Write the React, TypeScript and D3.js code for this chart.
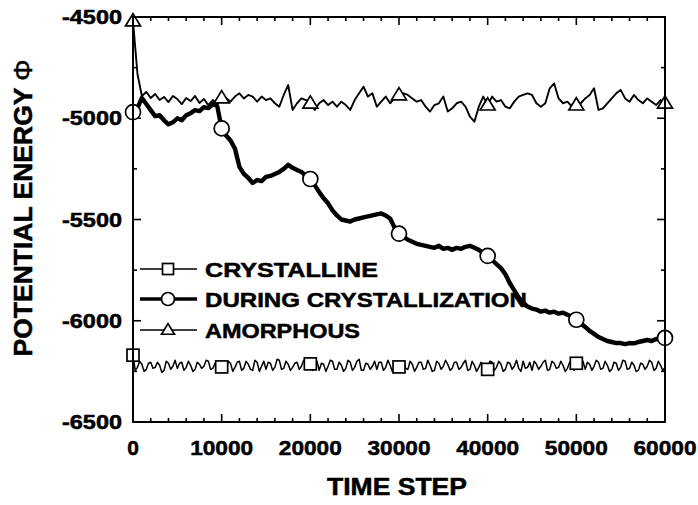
import React from "react";
import * as d3 from "d3";

// Sampling grids of time steps
const timeSteps: number[] = d3.range(0, 60001, 500);
const fineSteps: number[] = d3.range(0, 60001, 250);

const amorphous: number[] = [
  -4520, -4780, -4890, -4870, -4900, -4880, -4910, -4895, -4920, -4890,
  -4905, -4930, -4900, -4915, -4890, -4925, -4905, -4935, -4910, -4930,
  -4900, -4900, -4918, -4893, -4877, -4902, -4885, -4893, -4918, -4893,
  -4910, -4902, -4926, -4943, -4885, -4836, -4959, -4926, -4902, -4910,
  -4926, -4959, -4926, -4910, -4935, -4918, -4943, -4918, -4935, -4959,
  -4910, -4877, -4844, -4893, -4877, -4943, -4918, -4893, -4926, -4902,
  -4885, -4877, -4885, -4902, -4918, -4910, -4943, -4967, -4935, -4926,
  -4893, -4967, -4951, -4926, -4918, -4943, -4992, -5017, -4943, -4893,
  -4935, -4893, -4918, -4910, -4943, -4951, -4918, -4893, -4885, -4877,
  -4885, -4926, -4943, -4926, -4852, -4828, -4902, -4926, -4918, -4943,
  -4935, -4926, -4902, -4885, -4852, -4959, -4951, -4926, -4902, -4877,
  -4860, -4902, -4918, -4885, -4910, -4926, -4902, -4918, -4935, -4910,
  -4926,
];

const duringCrystallization: number[] = [
  -4970, -4950, -4900, -4930, -4960, -4990, -4985, -5010, -5030, -5020,
  -5000, -5010, -4985, -4975, -4960, -4965, -4945, -4950, -4930, -4940,
  -5050, -5085, -5110, -5150, -5240, -5275, -5295, -5320, -5305, -5310,
  -5290, -5285, -5275, -5265, -5250, -5230, -5245, -5255, -5265, -5285,
  -5300, -5330, -5365, -5395, -5420, -5455, -5480, -5500, -5505, -5510,
  -5500, -5495, -5490, -5485, -5480, -5475, -5470, -5480, -5495, -5540,
  -5570, -5585, -5600, -5610, -5620, -5625, -5630, -5635, -5640, -5630,
  -5645, -5640, -5650, -5640, -5645, -5635, -5630, -5640, -5650, -5665,
  -5680, -5700, -5720, -5740, -5770, -5815, -5850, -5885, -5910, -5930,
  -5940, -5945, -5955, -5950, -5960, -5955, -5965, -5960, -5970, -5980,
  -5995, -6015, -6030, -6050, -6065, -6080, -6090, -6100, -6105, -6110,
  -6110, -6115, -6110, -6112, -6105, -6100, -6095, -6100, -6090, -6095,
  -6085,
];

// Crystalline run, sampled every 250 steps
const crystalline: number[] = [
  -6170, -6245, -6230, -6200, -6215, -6250, -6240, -6210, -6205, -6235, -6230, -6205, -6220, -6255, -6245, -6200, -6210, -6240, -6225, -6195,
  -6235, -6210, -6205, -6245, -6230, -6200, -6220, -6250, -6240, -6205, -6215, -6235, -6225, -6195, -6200, -6240, -6235, -6210, -6220, -6245,
  -6228, -6210, -6240, -6200, -6210, -6250, -6230, -6205, -6200, -6245, -6235, -6200, -6215, -6240, -6245, -6195, -6205, -6250, -6225, -6200,
  -6240, -6205, -6210, -6245, -6230, -6190, -6195, -6240, -6235, -6200, -6215, -6245, -6230, -6210, -6205, -6240, -6225, -6195, -6215, -6235,
  -6213, -6245, -6230, -6200, -6245, -6210, -6215, -6250, -6225, -6195, -6200, -6240, -6240, -6205, -6220, -6250, -6235, -6195, -6205, -6245,
  -6230, -6200, -6190, -6245, -6245, -6210, -6215, -6240, -6225, -6200, -6240, -6205, -6205, -6245, -6230, -6195, -6220, -6250, -6235, -6205,
  -6228, -6245, -6200, -6235, -6240, -6200, -6215, -6250, -6230, -6205, -6205, -6240, -6235, -6195, -6220, -6250, -6245, -6200, -6210, -6240,
  -6225, -6195, -6215, -6245, -6235, -6205, -6205, -6240, -6230, -6210, -6195, -6245, -6240, -6200, -6220, -6250, -6230, -6205, -6245, -6215,
  -6240, -6200, -6205, -6245, -6230, -6200, -6215, -6250, -6240, -6205, -6210, -6240, -6225, -6195, -6235, -6250, -6200, -6235, -6230, -6205,
  -6245, -6200, -6215, -6240, -6225, -6205, -6195, -6245, -6240, -6200, -6210, -6235, -6230, -6200, -6220, -6250, -6235, -6205, -6215, -6245,
  -6210, -6240, -6230, -6200, -6240, -6205, -6215, -6245, -6225, -6195, -6205, -6240, -6235, -6200, -6220, -6250, -6240, -6205, -6210, -6245,
  -6230, -6195, -6200, -6240, -6235, -6205, -6220, -6250, -6245, -6210, -6215, -6240, -6225, -6195, -6205, -6245, -6235, -6200, -6220, -6245,
  -6230,
];

// Marker positions (time steps) for each series
const crystallineMarks: number[] = [0, 10000, 20000, 30000, 40000, 50000];
const duringMarks: number[] = [0, 10000, 20000, 30000, 40000, 50000, 60000];
const amorphousMarks: number[] = [0, 10000, 20000, 30000, 40000, 50000, 60000];

const xTicks: number[] = [0, 10000, 20000, 30000, 40000, 50000, 60000];
const yTicks: number[] = [-4500, -5000, -5500, -6000, -6500];

const legendLabels: string[] = ["CRYSTALLINE", "DURING CRYSTALLIZATION", "AMORPHOUS"];

const FONT = "'Liberation Sans', Arial, Helvetica, sans-serif";
const W = 698;
const H = 505;
const M = { left: 133, right: 665, top: 17, bottom: 422 };

type Shape = "square" | "circle" | "triangle";

function Marker({ x, y, shape, s }: { x: number; y: number; shape: Shape; s: number }) {
  const common = { fill: "#fff", stroke: "#000", strokeWidth: 1.7 };
  if (shape === "square") {
    return <rect x={x - s / 2} y={y - s / 2} width={s} height={s} {...common} />;
  }
  if (shape === "circle") {
    return <circle cx={x} cy={y} r={s / 2} {...common} />;
  }
  const h = s * 0.82;
  return (
    <path
      d={`M${x},${y - h * 0.6}L${x + s / 2},${y + h * 0.4}L${x - s / 2},${y + h * 0.4}Z`}
      {...common}
    />
  );
}

export default function App() {
  const x = d3.scaleLinear().domain([0, 60000]).range([M.left, M.right]);
  const y = d3.scaleLinear().domain([-6500, -4500]).range([M.bottom, M.top]);

  const lineFor = (steps: number[]) =>
    d3
      .line<number>()
      .x((_, i) => x(steps[i]))
      .y((d) => y(d));

  const xMinor = d3.range(0, 60001, 2000);
  const yMinor = d3.range(-6500, -4499, 250);

  const series = [
    { data: crystalline, steps: fineSteps, marks: crystallineMarks, shape: "square" as Shape, width: 1.5, size: 12 },
    { data: amorphous, steps: timeSteps, marks: amorphousMarks, shape: "triangle" as Shape, width: 1.9, size: 15 },
    { data: duringCrystallization, steps: timeSteps, marks: duringMarks, shape: "circle" as Shape, width: 4.4, size: 15 },
  ];

  const legendRows = [
    { label: legendLabels[0], shape: "square" as Shape, width: 1.5, size: 11, len: 173 },
    { label: legendLabels[1], shape: "circle" as Shape, width: 3.4, size: 13, len: 322 },
    { label: legendLabels[2], shape: "triangle" as Shape, width: 1.5, size: 13, len: 155 },
  ];
  const legendY = [269, 299, 330];

  const ink = { stroke: "#000", strokeWidth: 0.5 };

  return (
    <div style={{ position: "absolute", left: 0, top: 0 }}>
      <svg width={W} height={H} style={{ display: "block", background: "#fff" }}>
        <defs>
          <clipPath id="plot-area">
            <rect x={M.left} y={M.top} width={M.right - M.left} height={M.bottom - M.top} />
          </clipPath>
        </defs>

        {/* minor / major ticks on all four sides, pointing inward */}
        <g stroke="#000" strokeWidth={1.6}>
          {xMinor.map((t) => {
            const len = t % 10000 === 0 ? 8 : 4;
            return (
              <g key={`xt${t}`}>
                <line x1={x(t)} x2={x(t)} y1={M.bottom} y2={M.bottom - len} />
                <line x1={x(t)} x2={x(t)} y1={M.top} y2={M.top + len} />
              </g>
            );
          })}
          {yMinor.map((t) => {
            const len = t % 500 === 0 ? 8 : 4;
            return (
              <g key={`yt${t}`}>
                <line x1={M.left} x2={M.left + len} y1={y(t)} y2={y(t)} />
                <line x1={M.right} x2={M.right - len} y1={y(t)} y2={y(t)} />
              </g>
            );
          })}
        </g>

        {/* legend */}
        <g fontFamily={FONT} fontWeight="bold" fontSize={21}>
          {legendRows.map((r, i) => (
            <g key={r.label}>
              <line x1={140} x2={197} y1={legendY[i]} y2={legendY[i]} stroke="#000" strokeWidth={r.width} />
              <Marker x={168} y={legendY[i]} shape={r.shape} s={r.size} />
              <text x={205} y={legendY[i] + 8} textLength={r.len} lengthAdjust="spacingAndGlyphs" {...ink}>
                {r.label}
              </text>
            </g>
          ))}
        </g>

        {/* data lines and markers */}
        <g clipPath="url(#plot-area)">
          {series.map((s, k) => (
            <path
              key={`l${k}`}
              d={lineFor(s.steps)(s.data) || ""}
              fill="none"
              stroke="#000"
              strokeWidth={s.width}
              strokeLinejoin="round"
            />
          ))}
        </g>
        <g>
          {series.map((s, k) =>
            s.marks.map((m) => (
              <Marker
                key={`m${k}-${m}`}
                x={x(m)}
                y={y(s.data[s.steps.indexOf(m)])}
                shape={s.shape}
                s={s.size}
              />
            ))
          )}
        </g>

        {/* frame */}
        <rect
          x={M.left}
          y={M.top}
          width={M.right - M.left}
          height={M.bottom - M.top}
          fill="none"
          stroke="#000"
          strokeWidth={2}
        />

        {/* tick labels */}
        <g fontFamily={FONT} fontWeight="bold" fontSize={20} fill="#000">
          {yTicks.map((t) => (
            <text
              key={`yl${t}`}
              x={122}
              y={y(t) + 7}
              textAnchor="end"
              textLength={60}
              lengthAdjust="spacingAndGlyphs"
              {...ink}
            >
              {String(t)}
            </text>
          ))}
          {xTicks.map((t) => {
            const s = String(t);
            return (
              <text
                key={`xl${t}`}
                x={x(t)}
                y={455}
                textAnchor="middle"
                fontSize={21}
                {...ink}
                {...(s.length > 1 ? { textLength: 63, lengthAdjust: "spacingAndGlyphs" } : {})}
              >
                {s}
              </text>
            );
          })}
        </g>

        {/* axis titles */}
        <text
          x={397}
          y={495}
          textAnchor="middle"
          fontFamily={FONT}
          fontWeight="bold"
          fontSize={23}
          textLength={140}
          lengthAdjust="spacingAndGlyphs"
          {...ink}
        >
          TIME STEP
        </text>
        <text
          transform="translate(32,208) rotate(-90)"
          textAnchor="middle"
          fontFamily={FONT}
          fontWeight="bold"
          fontSize={26}
          textLength={297}
          lengthAdjust="spacingAndGlyphs"
          {...ink}
        >
          POTENTIAL ENERGY <tspan fontWeight="normal">Φ</tspan>
        </text>
      </svg>
    </div>
  );
}
